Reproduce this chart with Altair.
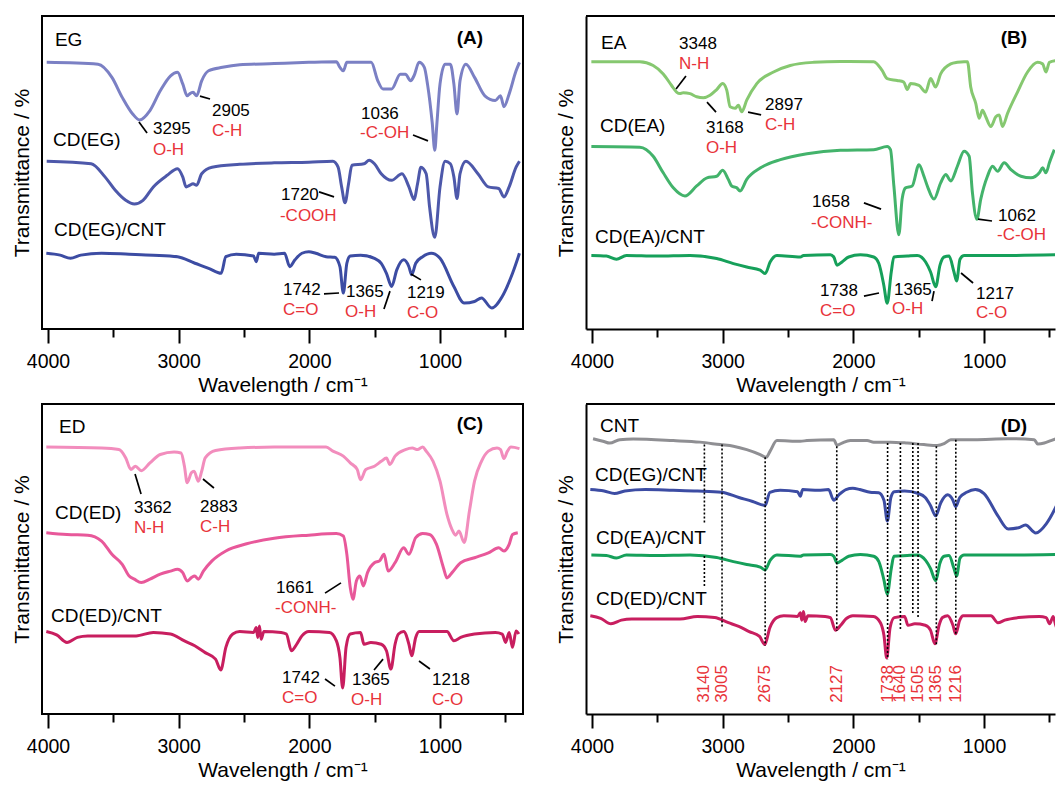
import altair as alt
import pandas as pd

FONT = "Liberation Sans"
RED = "#e8333a"

# ---------------- Panel A ----------------
EG_WN = [4010, 3617, 3511, 3432, 3352, 3300, 3220, 3141, 3062, 3009, 2969, 2935, 2917, 2890, 2863, 2824, 2771, 2665, 2533, 2269,
         2004, 1793, 1766, 1740, 1713, 1527, 1476, 1437, 1370, 1304, 1265, 1225, 1199, 1160, 1120, 1095, 1060, 1040, 1025, 1000,
         961, 921, 894, 870, 847, 802, 736, 657, 577, 537, 511, 471, 418, 392]
EG_T = [85.2, 84.6, 80.4, 74.0, 68.7, 66.8, 69.8, 76.1, 80.9, 82.0, 78.3, 74.5, 75.1, 75.6, 74.5, 79.3, 82.5, 83.6, 84.4, 84.8,
        85.2, 85.4, 83.6, 82.5, 85.2, 85.2, 79.3, 76.7, 76.7, 81.4, 81.4, 79.3, 80.9, 85.2, 83.6, 78.0, 66.0, 57.1, 65.0, 78.3,
        84.6, 84.6, 78.3, 68.7, 79.3, 84.6, 80.4, 74.5, 73.0, 74.5, 71.0, 75.1, 82.5, 85.2]
CDEG_WN = [4010, 3670, 3564, 3485, 3405, 3339, 3273, 3194, 3088, 3009, 2969, 2943, 2917, 2890, 2863, 2824, 2745, 2533, 2269, 2004,
           1820, 1780, 1753, 1727, 1700, 1674, 1582, 1542, 1502, 1450, 1370, 1291, 1238, 1199, 1172, 1146, 1106, 1080, 1040, 1000,
           961, 921, 894, 870, 847, 802, 710, 630, 551, 511, 471, 418, 392]
CDEG_T = [53.6, 52.8, 48.6, 44.3, 41.1, 39.9, 41.1, 45.4, 49.1, 51.2, 48.6, 45.4, 45.9, 46.4, 45.9, 49.6, 51.7, 52.6, 53.1, 53.3,
          53.6, 51.7, 45.4, 40.3, 46.4, 52.3, 52.8, 53.9, 52.8, 49.6, 47.5, 49.6, 45.4, 41.4, 46.4, 51.7, 49.6, 39.0, 29.3, 45.4,
          53.6, 52.8, 48.6, 41.7, 49.6, 53.6, 49.6, 45.4, 44.9, 42.2, 45.4, 51.7, 53.6]
CDEGCNT_WN = [4013, 3907, 3828, 3749, 3590, 3379, 3194, 3009, 2876, 2771, 2675, 2639, 2560, 2427, 2406, 2388, 2269, 2190, 2150, 2110,
              2057, 2004, 1951, 1872, 1806, 1766, 1740, 1713, 1687, 1608, 1502, 1450, 1410, 1370, 1331, 1278, 1238, 1217, 1186, 1133,
              1067, 1000, 894, 815, 736, 683, 604, 524, 445, 392]
CDEGCNT_T = [24.2, 23.6, 22.6, 23.6, 24.2, 23.9, 23.6, 23.1, 21.0, 19.4, 17.8, 23.1, 23.9, 23.3, 21.5, 24.2, 23.9, 24.2, 19.9, 22.1,
             24.2, 24.7, 24.2, 23.1, 22.9, 19.9, 11.5, 21.0, 23.3, 23.6, 22.6, 21.0, 17.8, 13.6, 18.9, 22.1, 19.9, 17.3, 21.0, 23.1,
             24.2, 22.6, 13.6, 8.3, 8.8, 9.9, 6.7, 10.4, 17.8, 24.2]

# ---------------- Panel B ----------------
EA_WN = [4005, 3634, 3532, 3455, 3391, 3353, 3327, 3302, 3250, 3199, 3148, 3097, 3046, 3000, 2969, 2943, 2905, 2880, 2854, 2816,
         2739, 2611, 2483, 2304, 2099, 1844, 1780, 1741, 1665, 1614, 1588, 1562, 1498, 1447, 1409, 1370, 1332, 1255, 1204, 1153,
         1127, 1102, 1063, 1038, 1012, 987, 948, 910, 884, 859, 820, 744, 667, 590, 552, 526, 500, 436]
EA_T = [85.4, 85.4, 84.2, 81.5, 77.8, 75.7, 75.2, 75.5, 75.2, 74.2, 73.9, 74.7, 76.5, 78.4, 76.3, 71.0, 70.5, 71.5, 69.4, 73.1,
        78.4, 82.1, 84.2, 85.2, 85.5, 85.4, 82.6, 80.0, 79.4, 78.9, 76.5, 78.4, 77.8, 75.7, 80.0, 77.3, 81.5, 84.7, 85.2, 85.4,
        85.4, 77.3, 72.0, 67.3, 69.9, 67.8, 64.7, 67.8, 68.4, 64.7, 68.9, 75.7, 82.1, 85.2, 84.7, 82.1, 85.2, 85.8]
CDEA_WN = [4005, 3634, 3532, 3455, 3378, 3289, 3199, 3120, 3046, 3000, 2957, 2931, 2892, 2867, 2816, 2710, 2558, 2355, 2099, 1844,
           1741, 1716, 1690, 1652, 1627, 1601, 1550, 1498, 1460, 1434, 1383, 1332, 1293, 1255, 1204, 1153, 1114, 1089, 1055, 1025,
           974, 935, 896, 846, 794, 718, 641, 577, 552, 526, 500, 462]
CDEA_T = [58.3, 58.1, 55.2, 49.9, 45.1, 42.5, 45.7, 48.3, 48.8, 50.7, 47.8, 45.7, 45.1, 44.1, 47.8, 51.5, 54.1, 56.0, 57.1, 57.3,
          58.3, 57.3, 45.7, 30.1, 41.5, 45.1, 45.7, 52.5, 48.8, 45.7, 41.5, 46.7, 49.4, 47.3, 52.0, 56.8, 55.2, 43.6, 35.1, 41.5,
          48.8, 52.0, 50.4, 53.1, 50.9, 48.8, 48.3, 49.9, 51.5, 49.9, 53.1, 57.3]
CDEACNT_WN = [4005, 3890, 3813, 3737, 3506, 3250, 3046, 2918, 2816, 2713, 2675, 2637, 2585, 2406, 2381, 2176, 2150, 2125, 2087, 2036,
              1946, 1844, 1805, 1767, 1741, 1710, 1690, 1588, 1511, 1447, 1409, 1370, 1337, 1306, 1268, 1230, 1210, 1184, 1153, 820,
              436]
CDEACNT_T = [23.5, 23.3, 22.3, 23.5, 23.3, 23.5, 22.5, 20.9, 19.8, 18.8, 17.7, 21.4, 23.5, 23.0, 23.5, 23.7, 23.0, 20.4, 21.4, 23.0,
             23.7, 23.0, 20.9, 14.0, 8.2, 18.2, 23.0, 23.3, 23.5, 21.4, 18.2, 13.5, 20.4, 23.0, 23.3, 18.2, 15.3, 22.3, 23.5, 23.5,
             23.7]

# ---------------- Panel C ----------------
ED_WN = [4013, 3590, 3458, 3405, 3366, 3331, 3286, 3220, 3141, 3035, 2982, 2956, 2935, 2903, 2882, 2850, 2824, 2797, 2718, 2533,
         2269, 1872, 1820, 1740, 1687, 1634, 1608, 1568, 1502, 1450, 1410, 1384, 1344, 1265, 1212, 1172, 1133, 1106, 1053, 1000,
         947, 908, 881, 855, 815, 775, 736, 683, 630, 564, 537, 511, 484, 458, 392]
ED_T = [86.1, 85.8, 85.3, 82.6, 78.9, 79.9, 78.5, 81.0, 83.7, 84.5, 84.2, 79.9, 74.6, 77.8, 78.3, 75.1, 78.3, 82.6, 85.0, 85.8,
        86.1, 86.1, 84.8, 83.2, 81.0, 78.9, 75.6, 78.9, 79.9, 81.5, 82.6, 80.5, 83.2, 85.3, 85.8, 85.3, 86.1, 84.8, 81.5, 75.1,
        64.4, 59.5, 57.7, 59.0, 55.3, 65.5, 75.1, 81.5, 84.8, 85.8, 85.3, 82.4, 84.8, 86.1, 85.6]
CDED_WN = [4013, 3855, 3696, 3590, 3511, 3432, 3379, 3339, 3286, 3220, 3141, 3062, 3009, 2969, 2935, 2903, 2877, 2850, 2811, 2745,
           2639, 2480, 2269, 2004, 1793, 1740, 1713, 1687, 1666, 1640, 1613, 1587, 1555, 1502, 1463, 1428, 1397, 1344, 1278, 1238,
           1186, 1133, 1080, 1027, 974, 947, 908, 842, 736, 630, 551, 511, 471, 445, 405]
CDED_T = [58.5, 57.9, 57.7, 55.8, 51.5, 48.3, 44.5, 43.5, 42.4, 43.5, 45.1, 46.1, 46.7, 45.6, 42.9, 44.0, 44.5, 43.5, 46.1, 49.4,
          52.6, 54.9, 56.7, 57.7, 58.2, 57.4, 51.5, 40.8, 37.0, 42.9, 44.5, 41.3, 45.6, 48.8, 49.4, 51.5, 46.1, 48.8, 53.6, 51.5,
          56.9, 58.2, 57.9, 54.7, 47.2, 43.9, 45.6, 48.8, 50.4, 52.0, 53.6, 52.6, 54.7, 57.9, 58.5]
CDEDCNT_WN = [4013, 3934, 3855, 3775, 3696, 3590, 3326, 3194, 3062, 2956, 2877, 2797, 2718, 2678, 2639, 2586, 2533, 2427, 2406, 2395,
              2382, 2369, 2348, 2216, 2176, 2137, 2097, 2057, 2004, 1846, 1793, 1766, 1745, 1719, 1687, 1608, 1582, 1529, 1450, 1410,
              1376, 1344, 1318, 1278, 1238, 1217, 1186, 1160, 947, 894, 842, 736, 577, 524, 498, 471, 445, 418, 397]
CDEDCNT_T = [26.6, 25.5, 23.1, 24.7, 25.2, 25.2, 25.2, 26.3, 25.8, 23.6, 22.0, 19.8, 17.7, 14.2, 21.5, 25.8, 26.6, 26.3, 27.9, 24.7,
             28.4, 24.1, 26.6, 26.3, 25.8, 20.4, 22.5, 25.2, 26.6, 26.3, 23.6, 18.2, 8.4, 21.5, 25.8, 26.3, 22.5, 23.1, 22.5, 20.4,
             14.5, 22.5, 25.8, 26.6, 22.5, 18.8, 24.7, 26.6, 26.6, 23.6, 24.7, 25.8, 26.3, 25.8, 23.1, 26.3, 21.5, 26.8, 25.8]

# ---------------- Panel D ----------------
CNT_WN = [3992, 3916, 3864, 3788, 3685, 3378, 3174, 3020, 2918, 2816, 2713, 2667, 2637, 2585, 2406, 2355, 2150, 2125, 2087, 2023,
          1895, 1844, 1716, 1588, 1460, 1358, 1306, 1255, 1076, 820, 616, 590, 539, 488, 450]
CNT_T = [88.8, 88.0, 87.4, 88.5, 88.7, 88.2, 87.7, 86.9, 86.4, 85.3, 83.7, 82.8, 84.8, 88.2, 88.0, 88.2, 88.5, 86.7, 87.4, 88.2,
         88.2, 87.7, 87.7, 87.4, 86.9, 86.6, 87.2, 88.5, 88.5, 88.8, 88.5, 87.1, 87.4, 88.2, 88.8]
# stacking of the composite spectra in panel D: (baseline in source panel, baseline in D, relative scale)
D_STACK_NAMES = ["CD(EG)/CNT", "CD(EA)/CNT", "CD(ED)/CNT"]
D_SRC_BASE = [24.2, 23.5, 26.6]
D_DST_BASE = [72.4, 51.3, 31.7]
D_SCALE = [0.8, 0.83, 0.75]

D_DOT_WN = [3140, 3140, 3005, 2675, 2127, 1738, 1640, 1545, 1505, 1365, 1216]
D_DOT_TOP = [86.9, 51.0, 86.9, 82.8, 86.4, 87.4, 87.4, 87.4, 87.4, 86.4, 88.5]
D_DOT_BOT = [61.2, 41.3, 27.9, 22.0, 26.8, 17.7, 27.4, 32.2, 30.9, 22.5, 25.8]
D_LAB_TEXT = ["3140", "3005", "2675", "2127", "1738", "1640", "1505", "1365", "1216"]
D_LAB_WN = [3140, 3005, 2675, 2127, 1738, 1640, 1505, 1365, 1216]
D_LAB_T = 9.7

# ---------------- annotations ----------------
A_NUM_TEXT = ["3295", "2905", "1036", "1720", "1742", "1365", "1219"]
A_NUM_WN = [3197, 2745, 1605, 2217, 2202, 1720, 1253]
A_NUM_T = [63.9, 69.6, 68.7, 42.8, 12.5, 11.8, 11.5]
A_BOND_TEXT = ["O-H", "C-H", "-C-OH", "-COOH", "C=O", "O-H", "C-O"]
A_BOND_WN = [3197, 2745, 1612, 2225, 2202, 1727, 1253]
A_BOND_T = [57.2, 63.3, 62.6, 36.1, 6.1, 5.4, 5.1]
A_LEAD_WN1 = [3304, 2837, 1207, 1926, 1888, 1429, 1222]
A_LEAD_T1 = [66.1, 74.4, 62.0, 43.8, 11.2, 6.4, 17.6]
A_LEAD_WN2 = [3242, 2760, 1092, 1811, 1773, 1383, 1146]
A_LEAD_T2 = [62.6, 73.5, 60.1, 42.2, 11.5, 12.1, 15.7]
A_NAMES = ["EG", "CD(EG)", "CD(EG)/CNT"]
A_NAME_WN = [3947, 3962, 3954]
A_NAME_T = [92.3, 60.4, 31.6]

B_NUM_TEXT = ["3348", "3168", "2897", "1658", "1062", "1738", "1365", "1217"]
B_NUM_WN = [3334, 3128, 2676, 2316, 893, 2255, 1689, 1061]
B_NUM_T = [91.1, 64.2, 71.6, 40.6, 36.1, 12.1, 12.5, 11.2]
B_BOND_TEXT = ["N-H", "O-H", "C-H", "-CONH-", "-C-OH", "C=O", "O-H", "C-O"]
B_BOND_WN = [3334, 3128, 2676, 2324, 901, 2255, 1704, 1061]
B_BOND_T = [84.7, 57.8, 65.2, 33.9, 30.0, 5.8, 6.4, 5.1]
B_LEAD_WN1 = [3357, 3120, 2806, 1919, 1046, 1919, 1398, 1176]
B_LEAD_T1 = [76.7, 72.5, 69.3, 40.3, 35.1, 10.5, 8.9, 17.9]
B_LEAD_WN2 = [3281, 3051, 2706, 1788, 939, 1804, 1383, 1084]
B_LEAD_T2 = [80.8, 69.3, 68.4, 38.3, 34.5, 11.5, 12.1, 14.7]
B_NAMES = ["EA", "CD(EA)", "CD(EA)/CNT"]
B_NAME_WN = [3931, 3939, 3977]
B_NAME_T = [91.4, 64.9, 29.4]

C_NUM_TEXT = ["3362", "2883", "1661", "1742", "1365", "1218"]
C_NUM_WN = [3342, 2837, 2255, 2209, 1674, 1061]
C_NUM_T = [66.5, 66.8, 40.6, 11.6, 11.0, 11.0]
C_BOND_TEXT = ["N-H", "C-H", "-CONH-", "C=O", "O-H", "C-O"]
C_BOND_WN = [3342, 2837, 2263, 2209, 1681, 1061]
C_BOND_T = [60.0, 60.3, 34.2, 5.2, 4.5, 4.5]
C_LEAD_WN1 = [3334, 2814, 1880, 1880, 1505, 1161]
C_LEAD_T1 = [77.4, 75.8, 39.0, 11.3, 14.2, 17.1]
C_LEAD_WN2 = [3288, 2730, 1758, 1804, 1436, 1077]
C_LEAD_T2 = [71.0, 72.9, 42.3, 9.0, 17.7, 14.5]
C_NAMES = ["ED", "CD(ED)", "CD(ED)/CNT"]
C_NAME_WN = [3916, 3947, 3977]
C_NAME_T = [92.6, 64.8, 31.6]

D_NAMES = ["CNT", "CD(EG)/CNT", "CD(EA)/CNT", "CD(ED)/CNT"]
D_NAME_WN = [3939, 3977, 3969, 3969]
D_NAME_T = [92.9, 77.1, 56.8, 37.1]

PANEL_LETTERS = ["(A)", "(B)", "(C)", "(D)"]
LETTER_WN = 771
LETTER_T = [93.0, 93.0, 93.5, 92.9]

SERIES = ["EG", "CD(EG)", "CD(EG)/CNT", "EA", "CD(EA)", "CD(EA)/CNT", "ED", "CD(ED)", "CD(ED)/CNT", "CNT"]
SERIES_COLORS = ["#7b80c4", "#4d58aa", "#3c4ca3", "#86c870", "#43b36b", "#16a05a", "#f28dbd", "#e8589a", "#c81e5f", "#8f8f93"]

W_L, W_R = 481, 469
H_TOP, H_BOT = 313, 310
XDOM_L = [365, 4046]
XDOM_R = [457, 4046]


def spectra(pairs):
    rows = []
    for name, wn, t in pairs:
        for a, b in zip(wn, t):
            rows.append({"wn": a, "T": b, "series": name})
    return pd.DataFrame(rows)


def make_xaxis(show_domain):
    return alt.Axis(
        values=[4000, 3500, 3000, 2500, 2000, 1500, 1000, 500], format="d",
        labelExpr="datum.value % 1000 === 0 ? datum.label : ''",
        tickSize={"condition": {"test": "datum.value % 1000 === 0", "value": 14}, "value": 8},
        tickWidth=2, tickColor="black", labelFontSize=19.5, labelColor="black", labelFont=FONT,
        labelPadding=9, labelOverlap=False, labelFlush=False,
        title="Wavelength / cm\u207b\u00b9", titleFontSize=21, titleFont=FONT, titleFontWeight="normal",
        titleColor="black", titlePadding=4, grid=False,
        domain=show_domain, domainColor="black", domainWidth=2)


def make_yaxis(show_domain):
    return alt.Axis(title="Transmittance / %", titleFontSize=21, titleFont=FONT, titleFontWeight="normal",
                    titleColor="black", titlePadding=10, labels=False, ticks=False, grid=False,
                    domain=show_domain, domainColor="black", domainWidth=2)


def panel(series_df, num, bond, lead, name_lab, letter, letter_t, width, height, dom, right,
          extra=None):
    xs = alt.Scale(domain=dom, reverse=True, nice=False, zero=False)
    ys = alt.Scale(domain=[0, 100], nice=False, zero=False)
    xa = make_xaxis(right)
    ya = make_yaxis(right)

    def X(field="wn"):
        return alt.X(f"{field}:Q", scale=xs, axis=xa)

    def Y(field="T"):
        return alt.Y(f"{field}:Q", scale=ys, axis=ya)

    lines = alt.Chart(series_df).mark_line(strokeWidth=3, clip=True, interpolate="monotone").encode(
        x=X(), y=Y(),
        color=alt.Color("series:N", scale=alt.Scale(domain=SERIES, range=SERIES_COLORS), legend=None),
        detail="series:N",
    )
    layers = [lines]
    if lead is not None:
        ldf = pd.DataFrame({"wn": lead[0], "T": lead[1], "wn2": lead[2], "t2": lead[3]})
        layers.append(alt.Chart(ldf).mark_rule(color="black", strokeWidth=1.7).encode(
            x=X(), x2="wn2:Q", y=Y(), y2="t2:Q"))
    if extra is not None:
        dot_df, lab_df = extra
        layers.append(alt.Chart(dot_df).mark_rule(color="black", strokeWidth=1.6, strokeDash=[2, 2]).encode(
            x=X(), y=Y("top"), y2="bot:Q"))
        layers.append(alt.Chart(lab_df).mark_text(angle=270, align="center", baseline="middle", fontSize=17,
                                                  font=FONT, color=RED).encode(x=X(), y=Y(), text="txt:N"))
    if num is not None:
        ndf = pd.DataFrame({"wn": num[1], "T": num[2], "txt": num[0]})
        layers.append(alt.Chart(ndf).mark_text(align="left", baseline="middle", fontSize=17, font=FONT,
                                               color="black").encode(x=X(), y=Y(), text="txt:N"))
        bdf = pd.DataFrame({"wn": bond[1], "T": bond[2], "txt": bond[0]})
        layers.append(alt.Chart(bdf).mark_text(align="left", baseline="middle", fontSize=17, font=FONT,
                                               color=RED).encode(x=X(), y=Y(), text="txt:N"))
    mdf = pd.DataFrame({"wn": name_lab[1], "T": name_lab[2], "txt": name_lab[0]})
    layers.append(alt.Chart(mdf).mark_text(align="left", baseline="middle", fontSize=19, font=FONT,
                                           color="black").encode(x=X(), y=Y(), text="txt:N"))
    pdf = pd.DataFrame({"wn": [LETTER_WN], "T": [letter_t], "txt": [letter]})
    layers.append(alt.Chart(pdf).mark_text(align="center", baseline="middle", fontSize=19, font=FONT,
                                           fontWeight="bold", color="black").encode(x=X(), y=Y(), text="txt:N"))
    if right:
        layers.append(alt.Chart(pdf).mark_rule(color="black", strokeWidth=2).encode(
            x=alt.value(0), x2=alt.value(width), y=alt.value(0)))
    ch = alt.layer(*layers).properties(width=width, height=height)
    if right:
        ch = ch.properties(view=alt.ViewBackground(stroke="transparent"))
    return ch


dfA = spectra([("EG", EG_WN, EG_T), ("CD(EG)", CDEG_WN, CDEG_T), ("CD(EG)/CNT", CDEGCNT_WN, CDEGCNT_T)])
dfB = spectra([("EA", EA_WN, EA_T), ("CD(EA)", CDEA_WN, CDEA_T), ("CD(EA)/CNT", CDEACNT_WN, CDEACNT_T)])
dfC = spectra([("ED", ED_WN, ED_T), ("CD(ED)", CDED_WN, CDED_T), ("CD(ED)/CNT", CDEDCNT_WN, CDEDCNT_T)])

src = {"CD(EG)/CNT": (CDEGCNT_WN, CDEGCNT_T), "CD(EA)/CNT": (CDEACNT_WN, CDEACNT_T), "CD(ED)/CNT": (CDEDCNT_WN, CDEDCNT_T)}
d_pairs = [("CNT", CNT_WN, CNT_T)]
for nm, sb, db, sc in zip(D_STACK_NAMES, D_SRC_BASE, D_DST_BASE, D_SCALE):
    wn, t = src[nm]
    d_pairs.append((nm, wn, [db + sc * (v - sb) for v in t]))
dfD = spectra(d_pairs)

chartA = panel(dfA, (A_NUM_TEXT, A_NUM_WN, A_NUM_T), (A_BOND_TEXT, A_BOND_WN, A_BOND_T),
               (A_LEAD_WN1, A_LEAD_T1, A_LEAD_WN2, A_LEAD_T2), (A_NAMES, A_NAME_WN, A_NAME_T),
               PANEL_LETTERS[0], LETTER_T[0], W_L, H_TOP, XDOM_L, False)
chartB = panel(dfB, (B_NUM_TEXT, B_NUM_WN, B_NUM_T), (B_BOND_TEXT, B_BOND_WN, B_BOND_T),
               (B_LEAD_WN1, B_LEAD_T1, B_LEAD_WN2, B_LEAD_T2), (B_NAMES, B_NAME_WN, B_NAME_T),
               PANEL_LETTERS[1], LETTER_T[1], W_R, H_TOP, XDOM_R, True)
chartC = panel(dfC, (C_NUM_TEXT, C_NUM_WN, C_NUM_T), (C_BOND_TEXT, C_BOND_WN, C_BOND_T),
               (C_LEAD_WN1, C_LEAD_T1, C_LEAD_WN2, C_LEAD_T2), (C_NAMES, C_NAME_WN, C_NAME_T),
               PANEL_LETTERS[2], LETTER_T[2], W_L, H_BOT, XDOM_L, False)

dot_df = pd.DataFrame({"wn": D_DOT_WN, "top": D_DOT_TOP, "bot": D_DOT_BOT})
dlab_df = pd.DataFrame({"wn": D_LAB_WN, "T": [D_LAB_T] * len(D_LAB_WN), "txt": D_LAB_TEXT})
chartD = panel(dfD, None, None, None, (D_NAMES, D_NAME_WN, D_NAME_T),
               PANEL_LETTERS[3], LETTER_T[3], W_R, H_BOT, XDOM_R, True, extra=(dot_df, dlab_df))

chart = alt.concat(chartA, chartB, chartC, chartD, columns=2,
                   spacing={"row": 75, "column": 63}, bounds="flush").properties(
    padding={"left": 10, "top": 14, "right": 0, "bottom": 0},
    background="white",
).configure(font=FONT).configure_view(stroke="black", strokeWidth=2)

chart.save("out.html", embed_options={"renderer": "svg", "actions": False})
